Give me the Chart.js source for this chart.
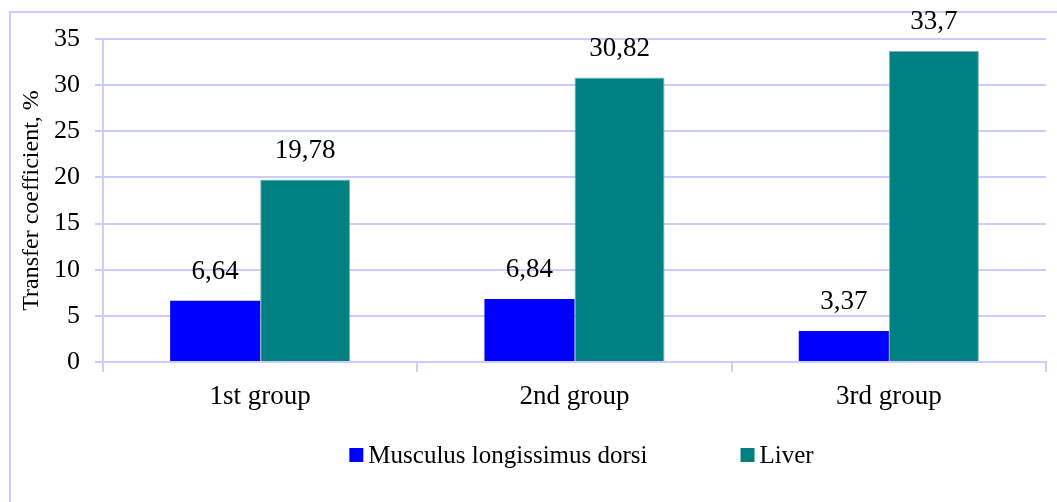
<!DOCTYPE html>
<html>
<head>
<meta charset="utf-8">
<script src="https://cdn.jsdelivr.net/npm/chart.js@4"></script>
<style>
  body { margin: 0; background: #fff; overflow: hidden; }
  #frame { position: absolute; left: 9px; top: 11px; width: 1100px; height: 600px; border: 2px solid #ccccff; }
  #wrap { position: absolute; left: 0; top: 0; width: 1057px; height: 502px; }
</style>
</head>
<body>
<div id="frame"></div>
<div id="wrap"><canvas id="grafica" width="1057" height="502"></canvas></div>
<script>
const categories = ['1st group', '2nd group', '3rd group'];
const muscleValues = [6.64, 6.84, 3.37];
const liverValues = [19.78, 30.82, 33.7];
const seriesNames = ['Musculus longissimus dorsi', 'Liver'];
const yTicks = [0, 5, 10, 15, 20, 25, 30, 35];

const fontFamily = '"Liberation Serif", "Times New Roman", serif';
const gridColor = '#ccccff';

// value labels above bars, decimal comma
const valueLabels = {
  id: 'valueLabels',
  afterDatasetsDraw(chart) {
    const ctx = chart.ctx;
    ctx.save();
    ctx.font = '27px ' + fontFamily;
    ctx.fillStyle = '#000';
    ctx.textAlign = 'center';
    ctx.textBaseline = 'middle';
    chart.data.datasets.forEach((ds, i) => {
      chart.getDatasetMeta(i).data.forEach((bar, j) => {
        ctx.fillText(String(ds.data[j]).replace('.', ','), bar.x, bar.y - 29);
      });
    });
    ctx.restore();
  }
};

// legend drawn under the axis, wide gap between items like the original
const bottomLegend = {
  id: 'bottomLegend',
  afterDraw(chart) {
    const ctx = chart.ctx;
    ctx.save();
    ctx.font = '25px ' + fontFamily;
    ctx.textBaseline = 'middle';
    const box = 14, gap = 5, itemGap = 93;
    const items = chart.data.datasets.map(ds => ({ text: ds.label, color: ds.backgroundColor, w: box + gap + ctx.measureText(ds.label).width }));
    const total = items.reduce((s, it) => s + it.w, 0) + itemGap * (items.length - 1);
    let x = (chart.chartArea.left + chart.chartArea.right) / 2 - total / 2 + 7;
    const y = 455;
    items.forEach(it => {
      ctx.fillStyle = it.color;
      ctx.fillRect(x, y - box / 2, box, box);
      ctx.fillStyle = '#000';
      ctx.fillText(it.text, x + box + gap, y + 1);
      x += it.w + itemGap;
    });
    ctx.restore();
  }
};

new Chart(document.getElementById('grafica').getContext('2d'), {
  type: 'bar',
  data: {
    labels: categories,
    datasets: [
      { label: seriesNames[0], data: muscleValues, backgroundColor: '#0000ff', borderWidth: 0, categoryPercentage: 0.573, barPercentage: 1.0 },
      { label: seriesNames[1], data: liverValues, backgroundColor: '#008080', borderColor: '#7fb3b3', borderWidth: 1, categoryPercentage: 0.573, barPercentage: 1.0 }
    ]
  },
  options: {
    responsive: false,
    animation: false,
    layout: { padding: { left: 0, top: 39, right: 11, bottom: 80 } },
    plugins: {
      legend: { display: false },
      tooltip: { enabled: false }
    },
    scales: {
      x: {
        grid: { drawOnChartArea: false, color: gridColor, lineWidth: 2, tickLength: 10 },
        border: { color: gridColor, width: 2 },
        ticks: { color: '#000', font: { family: fontFamily, size: 27 }, padding: 9 },
        afterFit(scale) { scale.height = 60; }
      },
      y: {
        min: 0,
        max: 35,
        afterBuildTicks(scale) { scale.ticks = yTicks.map(v => ({ value: v })); },
        grid: { color: gridColor, lineWidth: 2, tickLength: 8 },
        border: { color: gridColor, width: 2 },
        ticks: { color: '#000', font: { family: fontFamily, size: 26 }, padding: 15 },
        title: { display: true, text: 'Transfer coefficient, %', color: '#000', font: { family: fontFamily, size: 24 }, padding: { top: 17, bottom: 0 } },
        afterFit(scale) { scale.width = 103; }
      }
    }
  },
  plugins: [valueLabels, bottomLegend]
});
</script>
</body>
</html>
